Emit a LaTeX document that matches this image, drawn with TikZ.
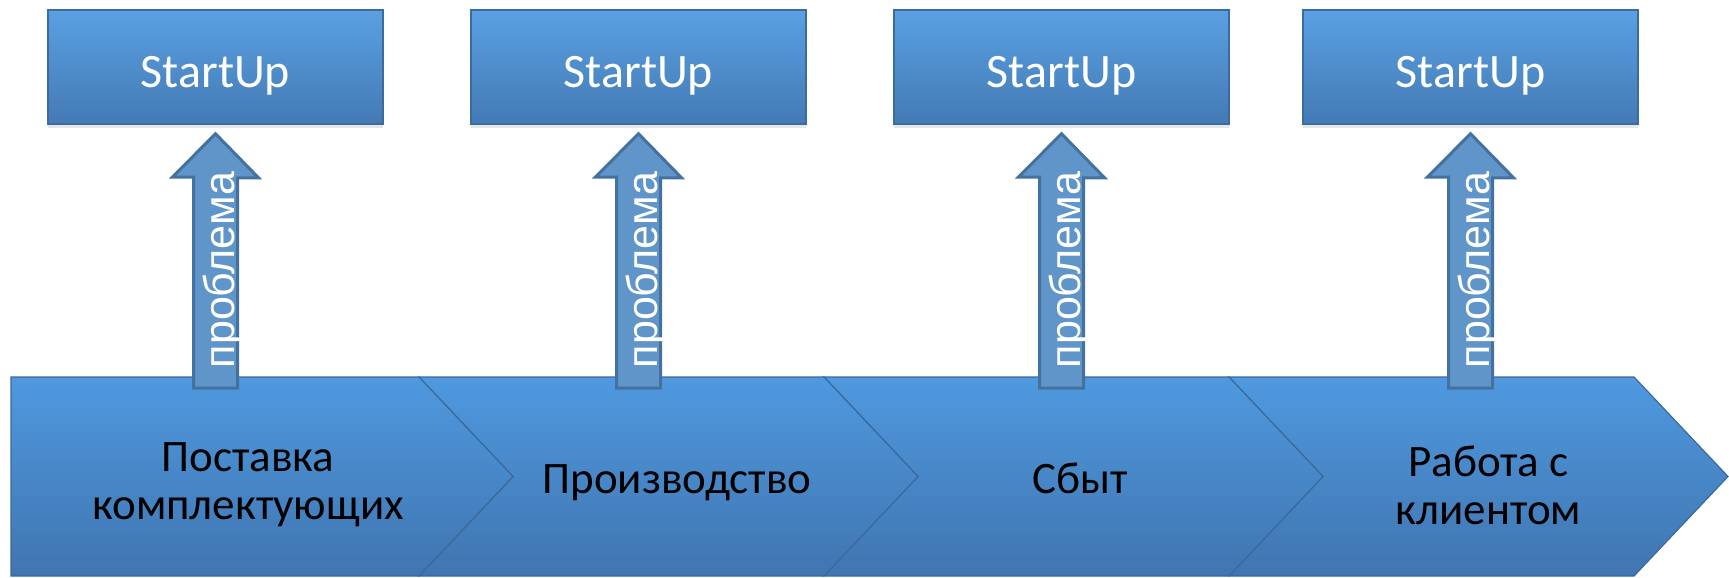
\documentclass[tikz,border=0pt]{standalone}
\usepackage{fontspec}
\setmainfont{Carlito}
\newfontfamily\probfont{Liberation Sans}
\usetikzlibrary{calc}
\usetikzlibrary{shadows}
\definecolor{boxtop}{HTML}{5AA0E2}
\definecolor{boxbot}{HTML}{447AB5}
\definecolor{boxline}{HTML}{3C6C9E}
\definecolor{chevtop}{HTML}{4F99DF}
\definecolor{chevbot}{HTML}{4075B0}
\definecolor{chevline}{HTML}{3A6A9C}
\definecolor{arrfill}{HTML}{5F95C9}
\definecolor{arrline}{HTML}{44729F}
\def\chevfirst{(11,377) -- (419,377) -- (513,476.5) -- (419,576) -- (11,576) -- cycle}
\newcommand\chev[1]{(#1,377) -- ++(405,0) -- ++(94,99.5) -- ++(-94,99.5) -- ++(-405,0) -- ++(94,-99.5) -- cycle}
\newcommand\probarrow[2]{\draw[arr] ($(#1)+(-22,0)$) -- ++(0,-211) -- ++(-21,0) -- ($(#2.south)+(0,9)$) -- ($(#2.south)+(43,53)$) -- ++(-21,0) -- ($(#1)+(22,0)$) -- cycle;}

\begin{document}
\begin{tikzpicture}[x=1pt,y=-1pt,
    startbox/.style={draw=boxline, line width=1.5pt, top color=boxtop, bottom color=boxbot,
        minimum width=335pt, minimum height=114pt, inner sep=0pt, text=white,
        font=\fontsize{48}{58}\selectfont, text height=42pt, text depth=0pt,
        drop shadow={opacity=0.2, shadow xshift=0pt, shadow yshift=-4pt}},
    stage/.style={font=\fontsize{45}{48}\selectfont, align=center, inner sep=0pt},
    chev/.style={top color=chevtop, bottom color=chevbot, draw=chevline, line width=1.2pt},
    arr/.style={fill=arrfill, draw=arrline, line width=3pt, line join=miter},
    prob/.style={font=\probfont\fontsize{43}{52}\selectfont, text=white, rotate=90, anchor=base, inner sep=0pt}]
    \useasboundingbox (0,0) rectangle (1729,578);

    % process chevrons
    \draw[chev] \chev{1229};
    \draw[chev] \chev{824};
    \draw[chev] \chev{419};
    \draw[chev] \chevfirst;
    \node[stage] (c1) at (248,485) {Поставка\\комплектующих};
    \node[stage, anchor=base] (c2) at (677,493) {Производство};
    \node[stage, anchor=base] (c3) at (1080,493) {Сбыт};
    \node[stage] (c4) at (1488.5,485) {Работа с\\клиентом};

    % startups
    \node[startbox] (s1) at (215.5,67) {StartUp};
    \node[startbox] (s2) at (638.5,67) {StartUp};
    \node[startbox] (s3) at (1061.5,67) {StartUp};
    \node[startbox] (s4) at (1470.5,67) {StartUp};

    % problems
    \coordinate (f1) at (215.5,388);
    \coordinate (f2) at (638.5,388);
    \coordinate (f3) at (1061.5,388);
    \coordinate (f4) at (1470.5,388);
    \probarrow{f1}{s1}
    \probarrow{f2}{s2}
    \probarrow{f3}{s3}
    \probarrow{f4}{s4}
    \node[prob] (p1) at (234.5,270) {проблема};
    \node[prob] (p2) at (657.5,270) {проблема};
    \node[prob] (p3) at (1080.5,270) {проблема};
    \node[prob] (p4) at (1489.5,270) {проблема};
\end{tikzpicture}
\end{document}
